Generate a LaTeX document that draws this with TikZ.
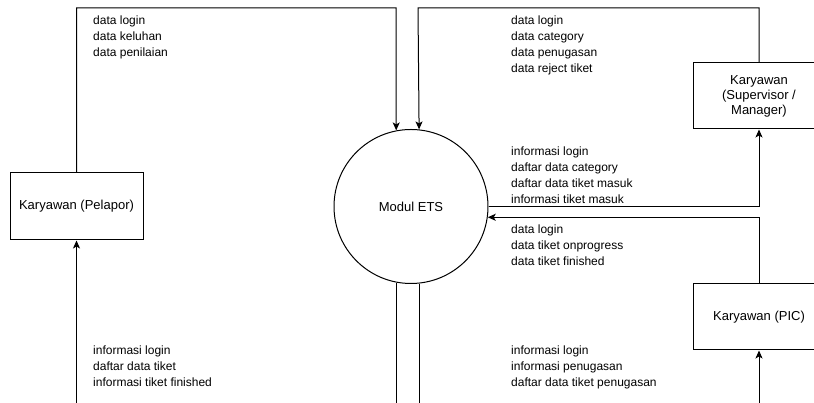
\documentclass[tikz,border=0pt]{standalone}
\usepackage{fontspec}
\setmainfont{Liberation Sans}
\usetikzlibrary{arrows.meta}
\begin{document}
\begin{tikzpicture}[x=1pt,y=1pt,
  entity/.style={draw, line width=1pt, minimum width=132pt, minimum height=66pt,
    inner sep=2pt, align=center, font=\fontsize{13}{15}\selectfont},
  process/.style={draw, circle, line width=1pt, minimum size=154pt, inner sep=0pt,
    font=\fontsize{13}{15}\selectfont},
  flow/.style={line width=1pt, -{Stealth[length=8pt,width=7pt,inset=2pt]}},
  plain/.style={line width=1pt},
  % base anchor of a multi-line label sits on its last line
  flowlabel/.style={anchor=base west, inner sep=0pt, align=left,
    font=\fontsize{12}{16}\selectfont}]
\useasboundingbox (0,0) rectangle (814,403);
\fill[white] (0,0) rectangle (814,403);
\clip (0,0) rectangle (814,403);

% external entities and the process
\node[entity, minimum width=133pt, minimum height=67pt] (pelapor) at (76.5,196.5) {Karyawan (Pelapor)};
\node[process] (ets) at (411,196.5) {Modul ETS};
\node[entity] (spv) at (759,307) {Karyawan\\(Supervisor /\\Manager)};
\node[entity] (pic) at (759,86) {Karyawan (PIC)};

% routing points
\coordinate (topA) at (396,395);
\coordinate (topB) at (418,395);
\coordinate (botA) at (76.5,-5);
\coordinate (botD) at (759,-5);

% data flows
\draw[flow] (pelapor.north) |- (topA) -- (ets.101.2);
\draw[flow] (spv.north) |- (topB) -- (ets.84.8);
\draw[flow] (ets.east) -| (spv.south);
\draw[flow] (pic.north) |- (ets.-8.6);
\draw[flow] (botA) -- (pelapor.south);
\draw[flow] (botD) -- (pic.south);
\draw[plain] (ets.-101.2) -- (ets.-101.2 |- botA);
\draw[plain] (ets.-84.8) -- (ets.-84.8 |- botA);

% flow labels
\node[flowlabel] (lblPelIn) at (93,346) {data login\\data keluhan\\data penilaian};
\node[flowlabel] (lblSpvIn) at (511,330) {data login\\data category\\data penugasan\\data reject tiket};
\node[flowlabel] (lblSpvOut) at (511,199) {informasi login\\daftar data category\\daftar data tiket masuk\\informasi tiket masuk};
\node[flowlabel] (lblPicIn) at (511,137) {data login\\data tiket onprogress\\data tiket finished};
\node[flowlabel] (lblPelOut) at (93,16) {informasi login\\daftar data tiket\\informasi tiket finished};
\node[flowlabel] (lblPicOut) at (511,16) {informasi login\\informasi penugasan\\daftar data tiket penugasan};
\end{tikzpicture}
\end{document}
